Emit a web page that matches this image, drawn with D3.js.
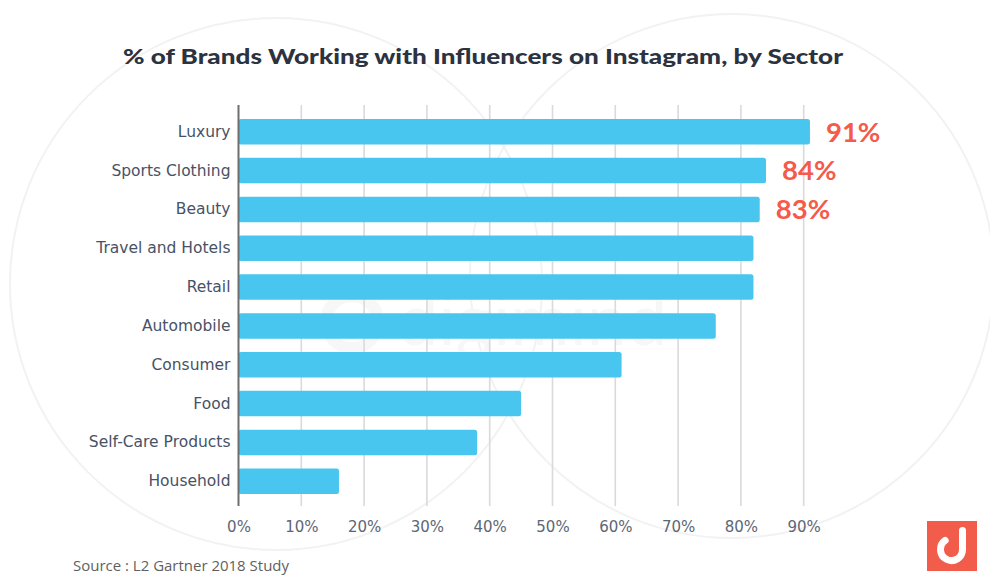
<!DOCTYPE html>
<html>
<head>
<meta charset="utf-8">
<script src="https://cdn.jsdelivr.net/npm/d3@7/dist/d3.min.js"></script>
<style>
  html, body { margin: 0; padding: 0; background: #ffffff; }
  svg { display: block; }
</style>
</head>
<body>
<svg id="chart" width="990" height="575"></svg>
<script>
// Sectors, top to bottom, and the share of brands working with influencers (%)
const sectors = ["Luxury", "Sports Clothing", "Beauty", "Travel and Hotels", "Retail",
                 "Automobile", "Consumer", "Food", "Self-Care Products", "Household"];
const shares = [91, 84, 83, 82, 82, 76, 61, 45, 38, 16];
// Sectors whose value is written next to the bar
const labelled = ["Luxury", "Sports Clothing", "Beauty"];
const tickValues = [0, 10, 20, 30, 40, 50, 60, 70, 80, 90];
const titleText = "% of Brands Working with Influencers on Instagram, by Sector";
const sourceText = "Source : L2 Gartner 2018 Study";

const svg = d3.select("#chart");

// faint decorative circles in the background
const bg = svg.append("g");
bg.append("circle").attr("cx", 276).attr("cy", 284).attr("r", 266)
  .attr("fill", "none").attr("stroke", "#f2f2f2").attr("stroke-width", 2);
bg.append("circle").attr("cx", 732).attr("cy", 276).attr("r", 262)
  .attr("fill", "none").attr("stroke", "#f2f2f2").attr("stroke-width", 2);
// faint watermark
bg.append("circle").attr("cx", 352).attr("cy", 322).attr("r", 26)
  .attr("fill", "none").attr("stroke", "#f7f7f7").attr("stroke-width", 12);
bg.append("text").attr("x", 398).attr("y", 345)
  .attr("font-family", "Lato, sans-serif").attr("font-size", 72)
  .attr("fill", "#f7f7f7").text("digimind");

// scales
const x = d3.scaleLinear().domain([0, 100]).range([238.5, 866.5]);
const y = d3.scaleBand().domain(sectors).range([119, 494]).paddingInner(0.343).paddingOuter(0);

// gridlines
svg.append("g").selectAll("line")
  .data(tickValues.filter(d => d > 0))
  .join("line")
  .attr("x1", d => x(d)).attr("x2", d => x(d))
  .attr("y1", 105).attr("y2", 506)
  .attr("stroke", "#dadada").attr("stroke-width", 1.6);

// bars
svg.append("g").selectAll("rect")
  .data(sectors)
  .join("rect")
  .attr("x", x(0))
  .attr("y", d => y(d))
  .attr("width", (d, i) => x(shares[i]) - x(0))
  .attr("height", y.bandwidth())
  .attr("rx", 2.5)
  .attr("fill", "#49c6ef");

// vertical axis line
svg.append("line")
  .attr("x1", x(0)).attr("x2", x(0))
  .attr("y1", 105).attr("y2", 506)
  .attr("stroke", "#6e6e6e").attr("stroke-width", 2);

// category axis labels
const yAxis = d3.axisLeft(y).tickSize(0).tickPadding(8);
const gy = svg.append("g").attr("transform", `translate(${x(0)},0)`).call(yAxis);
gy.select(".domain").remove();
gy.selectAll("text")
  .attr("font-family", "'DejaVu Sans', Verdana, sans-serif")
  .attr("font-size", 15.5)
  .attr("fill", "#485266");

// percentage axis labels
const xAxis = d3.axisBottom(x).tickValues(tickValues).tickFormat(d => d + "%").tickSize(0).tickPadding(0);
const gx = svg.append("g").attr("transform", "translate(0,532)").call(xAxis);
gx.select(".domain").remove();
gx.selectAll("text")
  .attr("dy", 0)
  .attr("font-family", "'DejaVu Sans', Verdana, sans-serif")
  .attr("font-size", 15)
  .attr("fill", "#5d6675");

// value labels for the leading sectors
svg.append("g").selectAll("text")
  .data(sectors.filter(s => labelled.includes(s)))
  .join("text")
  .attr("x", d => x(shares[sectors.indexOf(d)]) + 16)
  .attr("y", d => y(d) + y.bandwidth() / 2)
  .attr("dy", "0.36em")
  .attr("font-family", "Lato, 'Open Sans', sans-serif")
  .attr("font-weight", 700)
  .attr("font-size", 27.5)
  .attr("fill", "#f55a4b")
  .text(d => shares[sectors.indexOf(d)] + "%");

// title
svg.append("text")
  .attr("x", 483).attr("y", 64)
  .attr("text-anchor", "middle")
  .attr("font-family", "Lato, 'Open Sans', sans-serif")
  .attr("font-weight", 900)
  .attr("font-size", 21)
  .attr("fill", "#2b3240")
  .attr("textLength", 720)
  .attr("lengthAdjust", "spacingAndGlyphs")
  .text(titleText);

// source note
svg.append("text")
  .attr("x", 73).attr("y", 571)
  .attr("font-family", "'Open Sans', sans-serif")
  .attr("font-size", 14)
  .attr("fill", "#5f5f5f")
  .attr("textLength", 216)
  .attr("lengthAdjust", "spacingAndGlyphs")
  .text(sourceText);

// brand mark, bottom right
const logo = svg.append("g").attr("transform", "translate(927,521)");
logo.append("rect").attr("width", 50).attr("height", 50).attr("fill", "#f25c4a");
const r = 11, cx = 24.5, cy = 28.5;
const a = -125 * Math.PI / 180;
logo.append("path")
  .attr("d", `M${cx + r},${cy - 19} L${cx + r},${cy} A${r},${r} 0 1 1 ${cx + r * Math.cos(a)},${cy + r * Math.sin(a)}`)
  .attr("fill", "none").attr("stroke", "#ffffff").attr("stroke-width", 7)
  .attr("stroke-linecap", "round");
</script>
</body>
</html>
